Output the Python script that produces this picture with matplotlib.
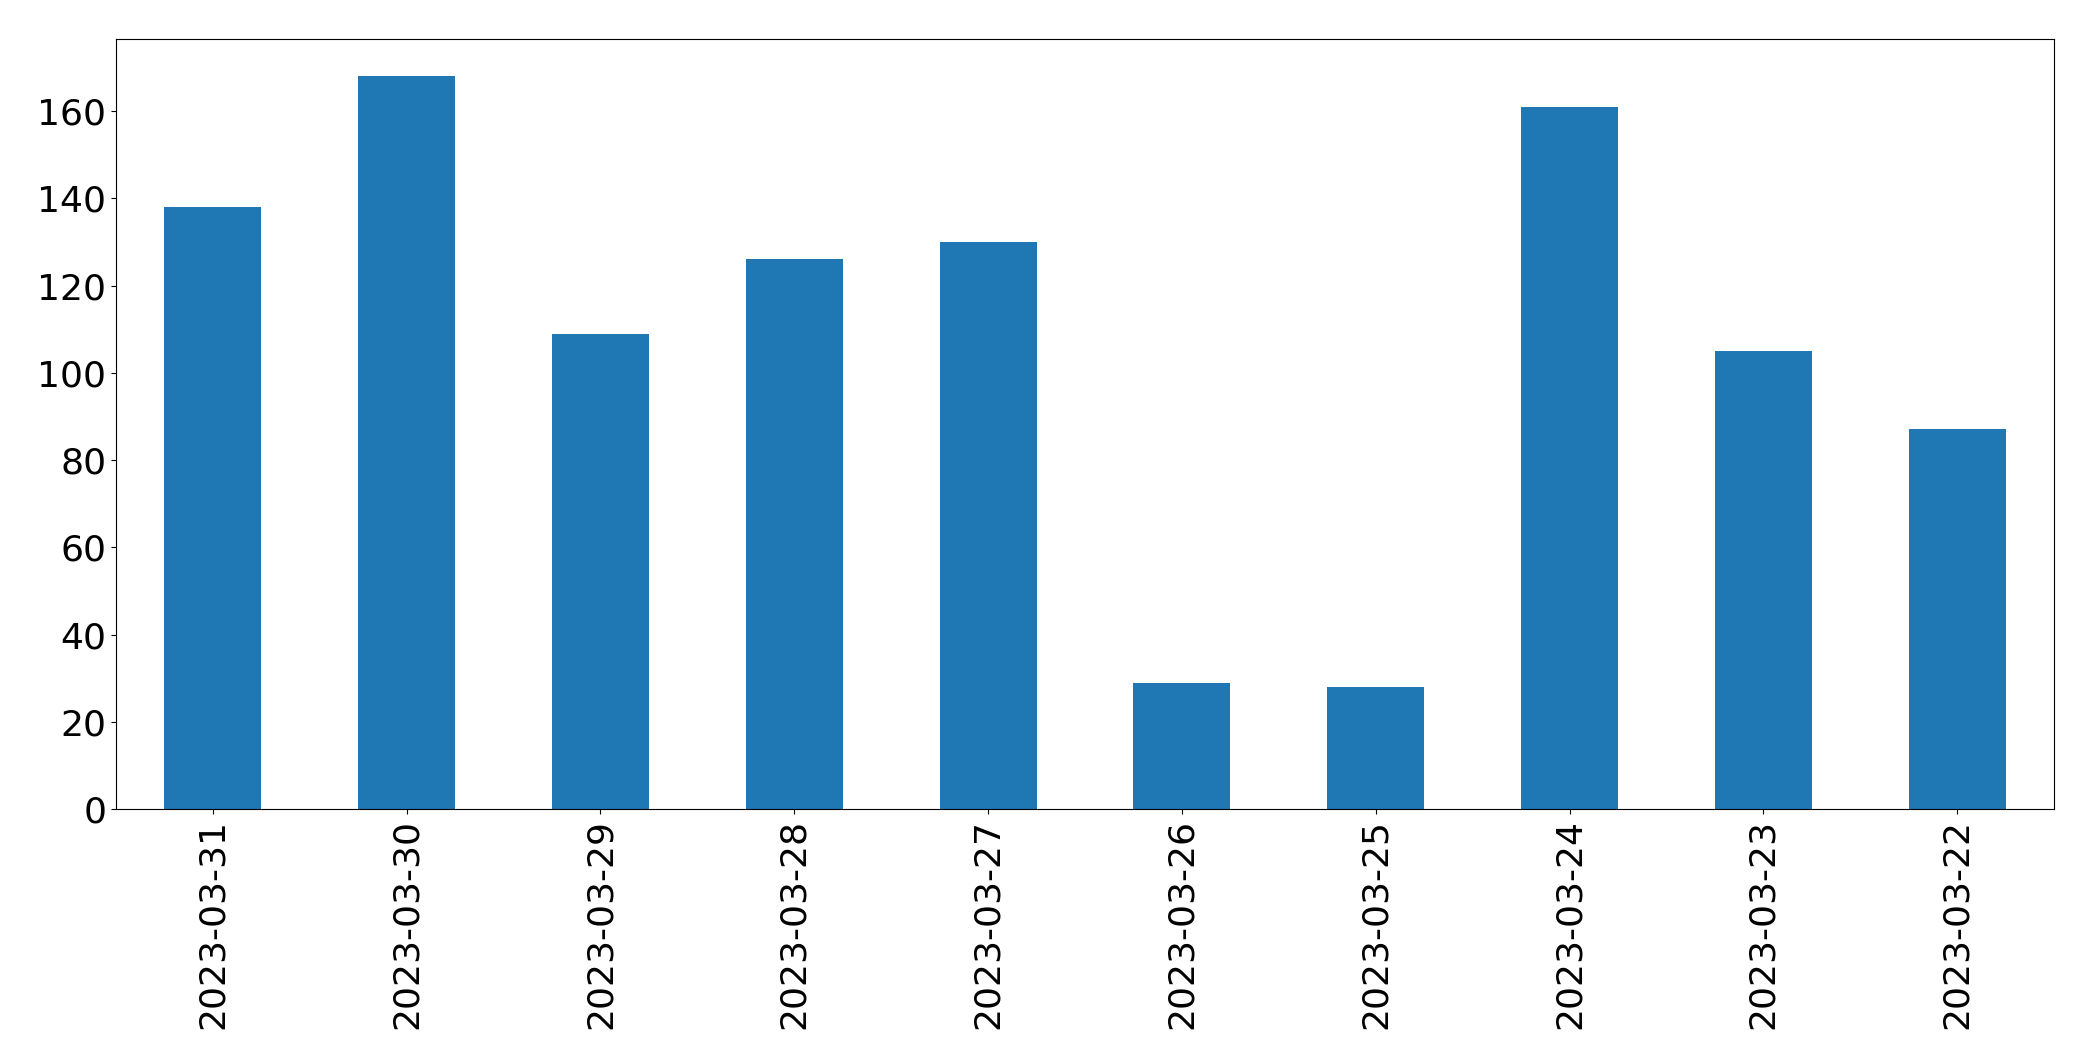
import matplotlib
matplotlib.use("Agg")
import matplotlib.pyplot as plt
import pandas as pd

dates = ["2023-03-31", "2023-03-30", "2023-03-29", "2023-03-28", "2023-03-27",
         "2023-03-26", "2023-03-25", "2023-03-24", "2023-03-23", "2023-03-22"]
counts = [138, 168, 109, 126, 130, 29, 28, 161, 105, 87]

s = pd.Series(counts, index=dates)

fig = plt.figure(figsize=(20.93, 10.61), dpi=100)
ax = fig.add_axes([0.0554, 0.2375, 0.9260, 0.7253])
s.plot(kind="bar", ax=ax, color="#1f77b4", fontsize=26)
ax.tick_params(axis="x", labelrotation=90)

fig.savefig("out.png", dpi=100)
